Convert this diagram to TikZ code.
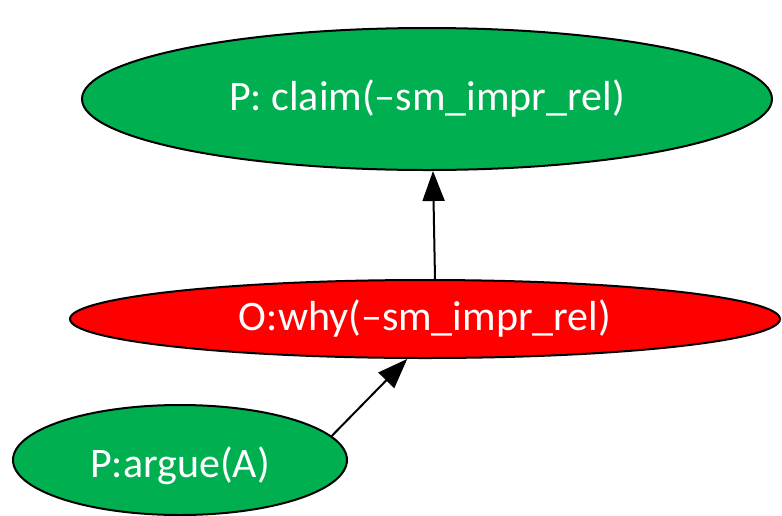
\documentclass[tikz,border=0pt]{standalone}
\usepackage{fontspec}
\setmainfont{Carlito}
\usetikzlibrary{shapes.geometric,arrows.meta,calc}
\definecolor{pgreen}{HTML}{00B050}
\definecolor{pred}{HTML}{FF0000}
\begin{document}
\begin{tikzpicture}[x=1pt,y=-1pt,
  elly/.style={ellipse,draw=black,line width=2pt,inner sep=0pt,text=white,
    font=\fontsize{42}{50}\selectfont},
  conn/.style={line width=2pt,-{Triangle[length=30pt,width=22pt]}}]
\useasboundingbox (0,0) rectangle (782,515);
\node[elly,fill=pgreen,minimum width=690pt,minimum height=142pt] (top) at (427,99) {P: claim(–sm\_impr\_rel)};
\node[elly,fill=pred,minimum width=710pt,minimum height=78pt] (mid) at (425,319) {O:why(–sm\_impr\_rel)};
\node[elly,fill=pgreen,minimum width=334pt,minimum height=110pt,text height=44pt,text depth=10pt] (bot) at (180,460) {P:argue(A)};
\draw[conn] ($(mid.north)+(10,0)$) -- ($(top.south)+(6,0)$);
\draw[conn] (bot.9) -- (mid.246);
\end{tikzpicture}
\end{document}
